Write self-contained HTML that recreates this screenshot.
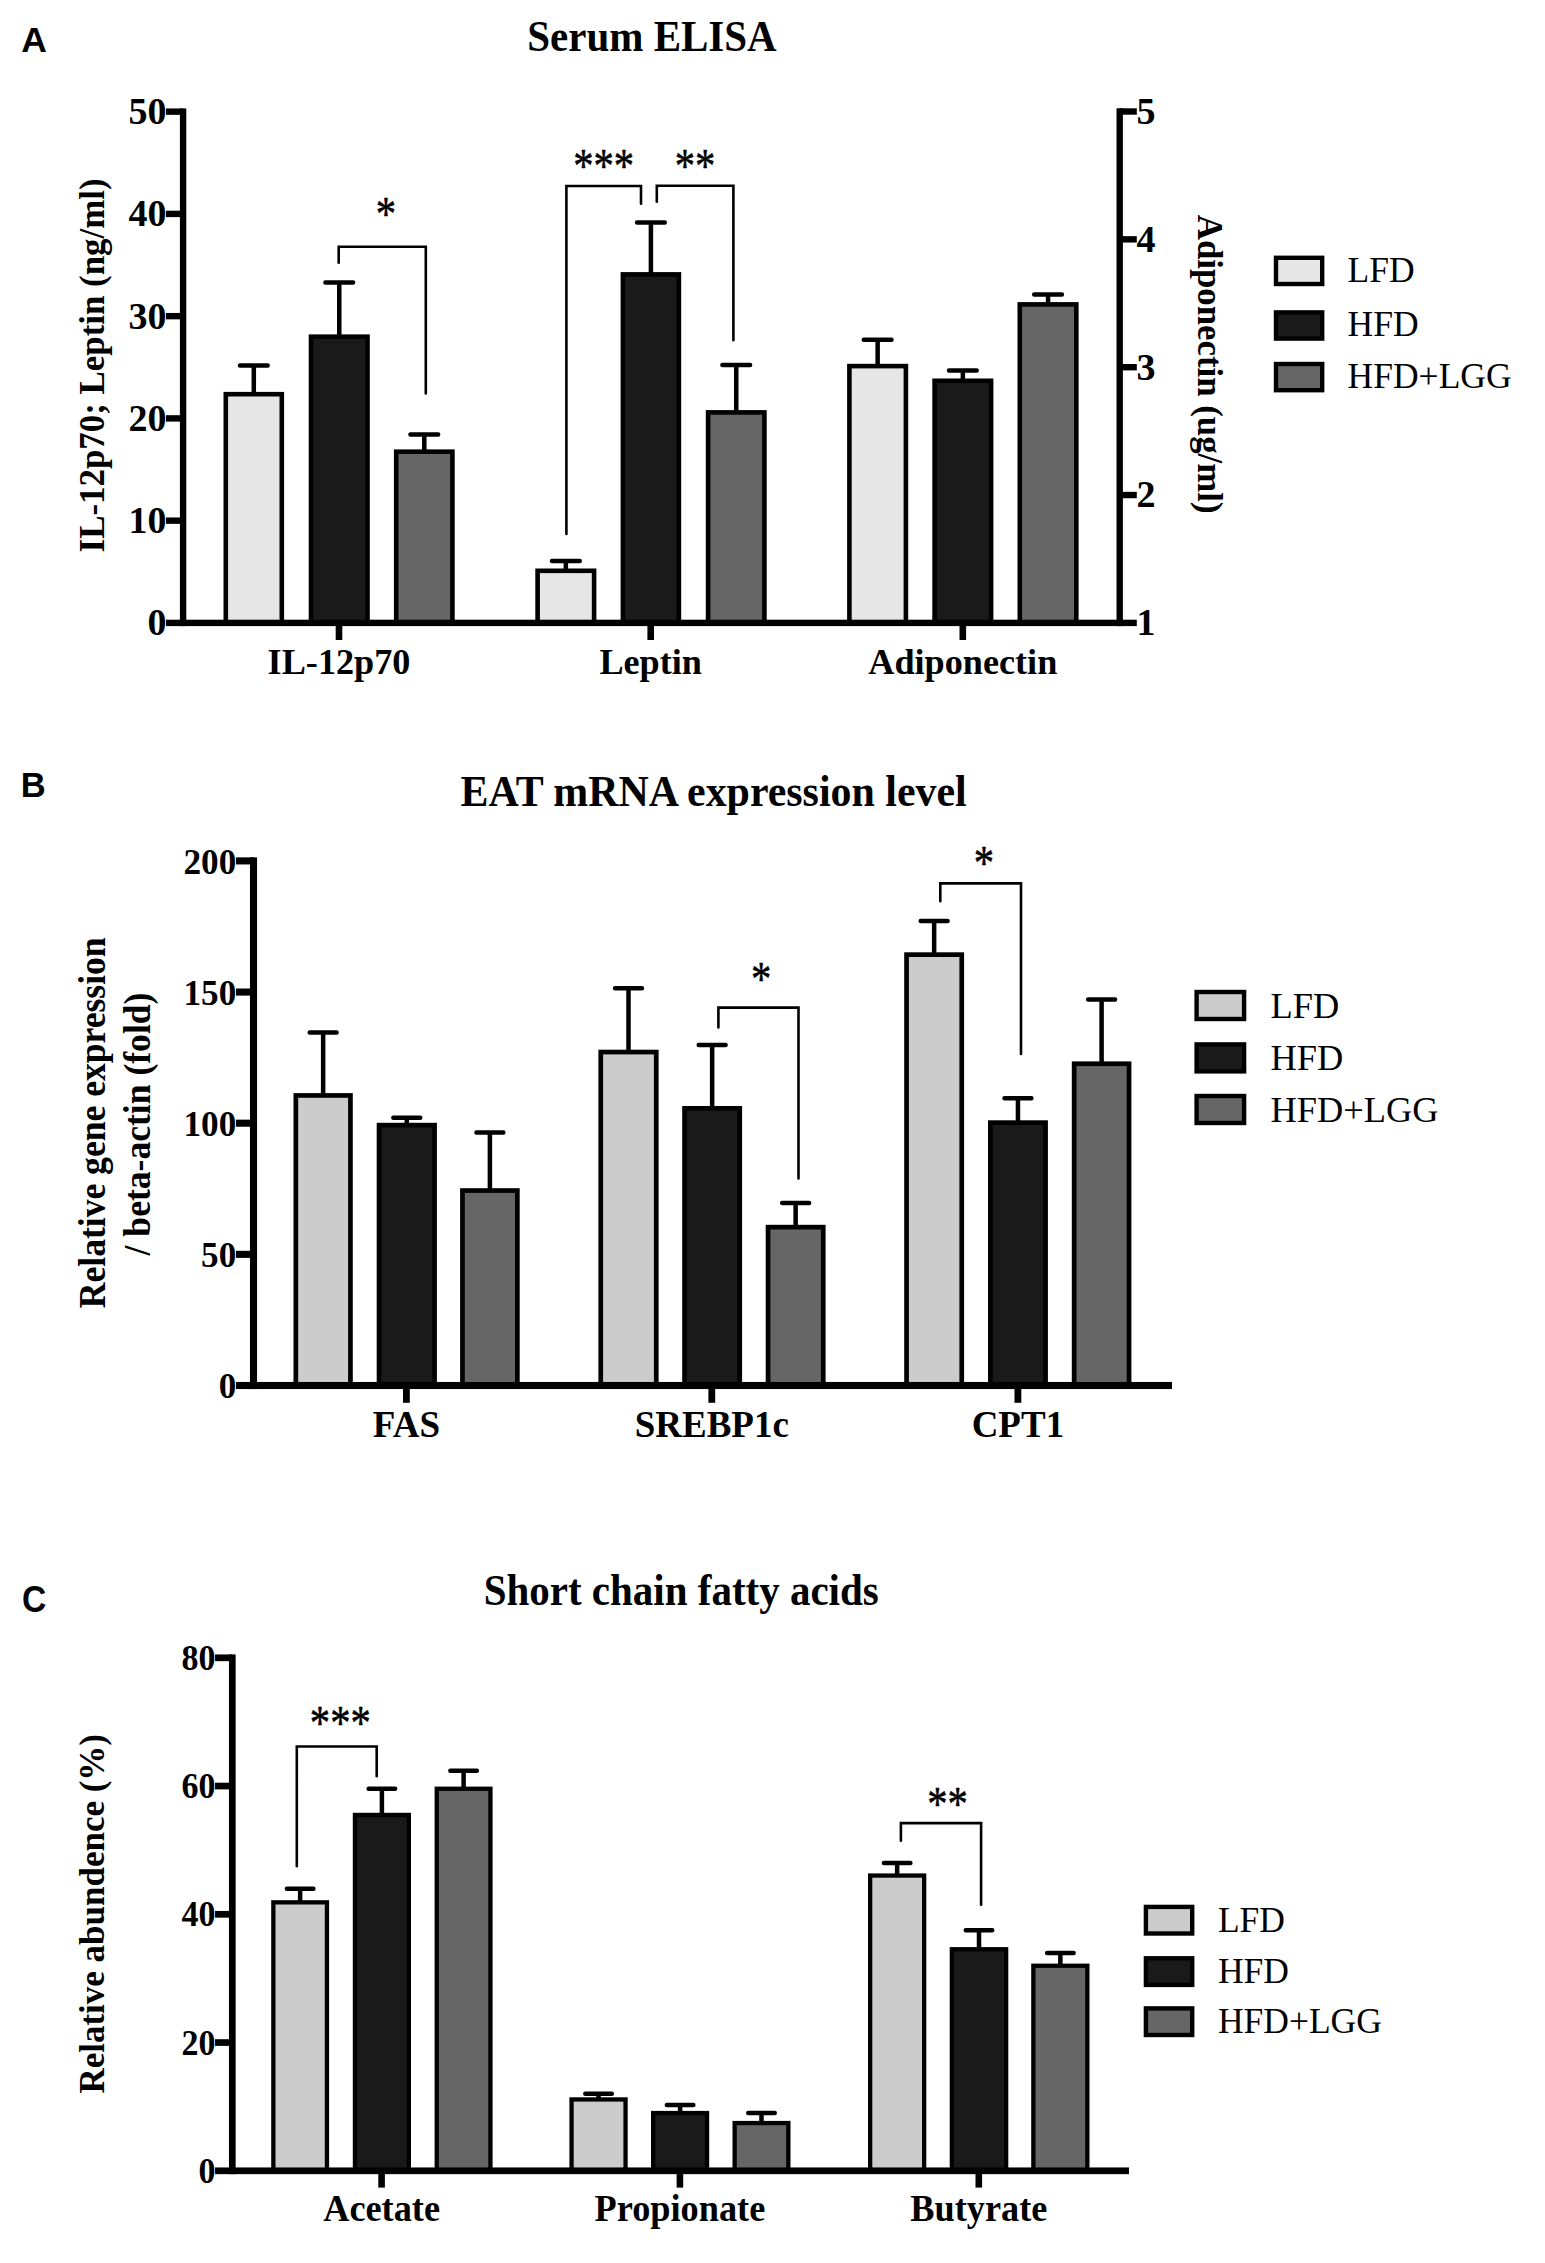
<!DOCTYPE html>
<html lang="en"><head><meta charset="utf-8"><title>Figure: Serum ELISA, EAT mRNA expression, SCFA</title>
<style>html,body{margin:0;padding:0;background:#fff}body{width:1545px;height:2263px;overflow:hidden}svg{display:block}text{fill:#000}</style>
</head><body>
<svg width="1545" height="2263" viewBox="0 0 1545 2263">
<rect width="1545" height="2263" fill="#fff"/>
<g id="panelA">
<text x="21.2" y="51.8" font-family='"Liberation Sans", Arial, sans-serif' font-size="35.5" font-weight="bold" text-anchor="start">A</text>
<text x="0" y="0" font-family='"Liberation Serif", "Times New Roman", serif' font-size="41" font-weight="bold" text-anchor="middle" transform="translate(652 50.8) scale(1 1.08)">Serum ELISA</text>
<path d="M253.8 393.9 V365.4 M239.95 365.4 H267.65" fill="none" stroke="#000" stroke-width="4.5" stroke-linecap="round"/>
<rect x="225.8" y="394.2" width="56" height="228.7" fill="#e6e6e6" stroke="#000" stroke-width="4.6"/>
<path d="M339.25 336.4 V282.6 M325.4 282.6 H353.1" fill="none" stroke="#000" stroke-width="4.5" stroke-linecap="round"/>
<rect x="311" y="336.7" width="56.5" height="286.2" fill="#1a1a1a" stroke="#000" stroke-width="4.6"/>
<path d="M424.3 451.4 V434.6 M410.45 434.6 H438.15" fill="none" stroke="#000" stroke-width="4.5" stroke-linecap="round"/>
<rect x="396.2" y="451.7" width="56.2" height="171.2" fill="#666666" stroke="#000" stroke-width="4.6"/>
<path d="M565.85 570.5 V561 M552 561 H579.7" fill="none" stroke="#000" stroke-width="4.5" stroke-linecap="round"/>
<rect x="537.6" y="570.8" width="56.5" height="52.1" fill="#e6e6e6" stroke="#000" stroke-width="4.6"/>
<path d="M650.9 274.1 V222.5 M637.05 222.5 H664.75" fill="none" stroke="#000" stroke-width="4.5" stroke-linecap="round"/>
<rect x="622.9" y="274.4" width="56" height="348.5" fill="#1a1a1a" stroke="#000" stroke-width="4.6"/>
<path d="M736.25 412.1 V365 M722.4 365 H750.1" fill="none" stroke="#000" stroke-width="4.5" stroke-linecap="round"/>
<rect x="708.1" y="412.4" width="56.3" height="210.5" fill="#666666" stroke="#000" stroke-width="4.6"/>
<path d="M877.65 365.8 V339.7 M863.8 339.7 H891.5" fill="none" stroke="#000" stroke-width="4.5" stroke-linecap="round"/>
<rect x="849.4" y="366.1" width="56.5" height="256.8" fill="#e6e6e6" stroke="#000" stroke-width="4.6"/>
<path d="M962.85 380.5 V370.5 M949 370.5 H976.7" fill="none" stroke="#000" stroke-width="4.5" stroke-linecap="round"/>
<rect x="934.6" y="380.8" width="56.5" height="242.1" fill="#1a1a1a" stroke="#000" stroke-width="4.6"/>
<path d="M1048.05 304.1 V294.6 M1034.2 294.6 H1061.9" fill="none" stroke="#000" stroke-width="4.5" stroke-linecap="round"/>
<rect x="1019.8" y="304.4" width="56.5" height="318.5" fill="#666666" stroke="#000" stroke-width="4.6"/>
<rect x="179.9" y="108.45" width="6.4" height="517.65" fill="#000"/>
<rect x="1116.5" y="108.3" width="6.4" height="517.8" fill="#000"/>
<rect x="166" y="619.7" width="970.8" height="6.4" fill="#000"/>
<text x="166.6" y="635.3" font-family='"Liberation Serif", "Times New Roman", serif' font-size="38" font-weight="bold" text-anchor="end">0</text>
<rect x="166" y="517.45" width="17.1" height="6.4" fill="#000"/>
<text x="166.6" y="533.05" font-family='"Liberation Serif", "Times New Roman", serif' font-size="38" font-weight="bold" text-anchor="end">10</text>
<rect x="166" y="415.2" width="17.1" height="6.4" fill="#000"/>
<text x="166.6" y="430.8" font-family='"Liberation Serif", "Times New Roman", serif' font-size="38" font-weight="bold" text-anchor="end">20</text>
<rect x="166" y="312.95" width="17.1" height="6.4" fill="#000"/>
<text x="166.6" y="328.55" font-family='"Liberation Serif", "Times New Roman", serif' font-size="38" font-weight="bold" text-anchor="end">30</text>
<rect x="166" y="210.7" width="17.1" height="6.4" fill="#000"/>
<text x="166.6" y="226.3" font-family='"Liberation Serif", "Times New Roman", serif' font-size="38" font-weight="bold" text-anchor="end">40</text>
<rect x="166" y="108.45" width="17.1" height="6.4" fill="#000"/>
<text x="166.6" y="124.05" font-family='"Liberation Serif", "Times New Roman", serif' font-size="38" font-weight="bold" text-anchor="end">50</text>
<text x="1136.4" y="635.3" font-family='"Liberation Serif", "Times New Roman", serif' font-size="38" font-weight="bold" text-anchor="start">1</text>
<rect x="1119.7" y="491.85" width="17.1" height="6.4" fill="#000"/>
<text x="1136.4" y="507.45" font-family='"Liberation Serif", "Times New Roman", serif' font-size="38" font-weight="bold" text-anchor="start">2</text>
<rect x="1119.7" y="364" width="17.1" height="6.4" fill="#000"/>
<text x="1136.4" y="379.6" font-family='"Liberation Serif", "Times New Roman", serif' font-size="38" font-weight="bold" text-anchor="start">3</text>
<rect x="1119.7" y="236.15" width="17.1" height="6.4" fill="#000"/>
<text x="1136.4" y="251.75" font-family='"Liberation Serif", "Times New Roman", serif' font-size="38" font-weight="bold" text-anchor="start">4</text>
<rect x="1119.7" y="108.3" width="17.1" height="6.4" fill="#000"/>
<text x="1136.4" y="123.9" font-family='"Liberation Serif", "Times New Roman", serif' font-size="38" font-weight="bold" text-anchor="start">5</text>
<rect x="335.7" y="622.9" width="6.6" height="17.1" fill="#000"/>
<text x="339" y="673.7" font-family='"Liberation Serif", "Times New Roman", serif' font-size="36.2" font-weight="bold" text-anchor="middle">IL-12p70</text>
<rect x="647.4" y="622.9" width="6.6" height="17.1" fill="#000"/>
<text x="650.7" y="673.7" font-family='"Liberation Serif", "Times New Roman", serif' font-size="36.2" font-weight="bold" text-anchor="middle">Leptin</text>
<rect x="959.5" y="622.9" width="6.6" height="17.1" fill="#000"/>
<text x="962.8" y="673.7" font-family='"Liberation Serif", "Times New Roman", serif' font-size="36.2" font-weight="bold" text-anchor="middle">Adiponectin</text>
<text x="0" y="0" font-family='"Liberation Serif", "Times New Roman", serif' font-size="34.9" font-weight="bold" text-anchor="middle" transform="translate(104.2 365.4) rotate(-90) scale(1 1.05)">IL-12p70; Leptin (ng/ml)</text>
<text x="0" y="0" font-family='"Liberation Serif", "Times New Roman", serif' font-size="34.8" font-weight="bold" text-anchor="middle" transform="translate(1197.9 364.2) rotate(90) scale(1 1.05)">Adiponectin (ug/ml)</text>
<path d="M338.7 262.7 V246.7 H425.8 V393.5" fill="none" stroke="#000" stroke-width="2.6" stroke-linecap="round" stroke-linejoin="miter"/>
<path d="M566.4 534 V186 H641 V203.8" fill="none" stroke="#000" stroke-width="2.6" stroke-linecap="round" stroke-linejoin="miter"/>
<path d="M656.8 201.7 V185.8 H733.4 V340.2" fill="none" stroke="#000" stroke-width="2.6" stroke-linecap="round" stroke-linejoin="miter"/>
<text x="0" y="0" font-family='"Liberation Serif", "Times New Roman", serif' font-size="40.6" font-weight="normal" text-anchor="middle" transform="translate(385.9 229.81) scale(1 1.19)" stroke="#000" stroke-width="0.45" stroke-linejoin="round">*</text>
<text x="0" y="0" font-family='"Liberation Serif", "Times New Roman", serif' font-size="40.6" font-weight="normal" text-anchor="middle" transform="translate(603.6 181.81) scale(1 1.19)" stroke="#000" stroke-width="0.45" stroke-linejoin="round">***</text>
<text x="0" y="0" font-family='"Liberation Serif", "Times New Roman", serif' font-size="40.6" font-weight="normal" text-anchor="middle" transform="translate(695.1 181.81) scale(1 1.19)" stroke="#000" stroke-width="0.45" stroke-linejoin="round">**</text>
<rect x="1276" y="257.8" width="46.2" height="26.2" fill="#e6e6e6" stroke="#000" stroke-width="4.4"/>
<text x="1347.6" y="281.9" font-family='"Liberation Serif", "Times New Roman", serif' font-size="35.5" font-weight="normal" text-anchor="start">LFD</text>
<rect x="1276" y="312.4" width="46.2" height="26.2" fill="#1a1a1a" stroke="#000" stroke-width="4.4"/>
<text x="1347.6" y="336.4" font-family='"Liberation Serif", "Times New Roman", serif' font-size="35.5" font-weight="normal" text-anchor="start">HFD</text>
<rect x="1276" y="364" width="46.2" height="26.2" fill="#666666" stroke="#000" stroke-width="4.4"/>
<text x="1347.6" y="388.1" font-family='"Liberation Serif", "Times New Roman", serif' font-size="35.5" font-weight="normal" text-anchor="start">HFD+LGG</text>
</g>
<g id="panelB">
<text x="0" y="0" font-family='"Liberation Sans", Arial, sans-serif' font-size="34.5" font-weight="bold" text-anchor="start" transform="translate(20.8 797.1) scale(1 1.04)">B</text>
<text x="0" y="0" font-family='"Liberation Serif", "Times New Roman", serif' font-size="41.9" font-weight="bold" text-anchor="middle" transform="translate(713.6 806) scale(1 1.06)">EAT mRNA expression level</text>
<path d="M323.15 1095.1 V1032.6 M309.7 1032.6 H336.6" fill="none" stroke="#000" stroke-width="4.5" stroke-linecap="round"/>
<rect x="295.85" y="1095.45" width="54.6" height="290.05" fill="#cccccc" stroke="#000" stroke-width="4.7"/>
<path d="M406.8 1124.8 V1117.7 M393.35 1117.7 H420.25" fill="none" stroke="#000" stroke-width="4.5" stroke-linecap="round"/>
<rect x="379.05" y="1125.15" width="55.5" height="260.35" fill="#1a1a1a" stroke="#000" stroke-width="4.7"/>
<path d="M489.9 1190.2 V1132.6 M476.45 1132.6 H503.35" fill="none" stroke="#000" stroke-width="4.5" stroke-linecap="round"/>
<rect x="462.45" y="1190.55" width="54.9" height="194.95" fill="#666666" stroke="#000" stroke-width="4.7"/>
<path d="M628.5 1051.7 V988.2 M615.05 988.2 H641.95" fill="none" stroke="#000" stroke-width="4.5" stroke-linecap="round"/>
<rect x="600.75" y="1052.05" width="55.5" height="333.45" fill="#cccccc" stroke="#000" stroke-width="4.7"/>
<path d="M712.15 1108 V1044.9 M698.7 1044.9 H725.6" fill="none" stroke="#000" stroke-width="4.5" stroke-linecap="round"/>
<rect x="684.55" y="1108.35" width="55.2" height="277.15" fill="#1a1a1a" stroke="#000" stroke-width="4.7"/>
<path d="M795.65 1226.8 V1203.1 M782.2 1203.1 H809.1" fill="none" stroke="#000" stroke-width="4.5" stroke-linecap="round"/>
<rect x="768.05" y="1227.15" width="55.2" height="158.35" fill="#666666" stroke="#000" stroke-width="4.7"/>
<path d="M934.15 954.3 V920.9 M920.7 920.9 H947.6" fill="none" stroke="#000" stroke-width="4.5" stroke-linecap="round"/>
<rect x="906.55" y="954.65" width="55.2" height="430.85" fill="#cccccc" stroke="#000" stroke-width="4.7"/>
<path d="M1017.95 1122.3 V1098.3 M1004.5 1098.3 H1031.4" fill="none" stroke="#000" stroke-width="4.5" stroke-linecap="round"/>
<rect x="990.35" y="1122.65" width="55.2" height="262.85" fill="#1a1a1a" stroke="#000" stroke-width="4.7"/>
<path d="M1101.6 1063.4 V999.5 M1088.15 999.5 H1115.05" fill="none" stroke="#000" stroke-width="4.5" stroke-linecap="round"/>
<rect x="1074.15" y="1063.75" width="54.9" height="321.75" fill="#666666" stroke="#000" stroke-width="4.7"/>
<rect x="249.95" y="857.35" width="7.1" height="531.7" fill="#000"/>
<rect x="236" y="1381.95" width="936" height="7.1" fill="#000"/>
<text x="0" y="0" font-family='"Liberation Serif", "Times New Roman", serif' font-size="35.2" font-weight="bold" text-anchor="end" transform="translate(236.3 1398.4) scale(1 1.02)">0</text>
<rect x="236" y="1250.8" width="17.5" height="7.1" fill="#000"/>
<text x="0" y="0" font-family='"Liberation Serif", "Times New Roman", serif' font-size="35.2" font-weight="bold" text-anchor="end" transform="translate(236.3 1267.25) scale(1 1.02)">50</text>
<rect x="236" y="1119.65" width="17.5" height="7.1" fill="#000"/>
<text x="0" y="0" font-family='"Liberation Serif", "Times New Roman", serif' font-size="35.2" font-weight="bold" text-anchor="end" transform="translate(236.3 1136.1) scale(1 1.02)">100</text>
<rect x="236" y="988.5" width="17.5" height="7.1" fill="#000"/>
<text x="0" y="0" font-family='"Liberation Serif", "Times New Roman", serif' font-size="35.2" font-weight="bold" text-anchor="end" transform="translate(236.3 1004.95) scale(1 1.02)">150</text>
<rect x="236" y="857.35" width="17.5" height="7.1" fill="#000"/>
<text x="0" y="0" font-family='"Liberation Serif", "Times New Roman", serif' font-size="35.2" font-weight="bold" text-anchor="end" transform="translate(236.3 873.8) scale(1 1.02)">200</text>
<rect x="403" y="1385.5" width="6.8" height="17.3" fill="#000"/>
<text x="0" y="0" font-family='"Liberation Serif", "Times New Roman", serif' font-size="37" font-weight="bold" text-anchor="middle" transform="translate(406.4 1437.3) scale(1 1.03)">FAS</text>
<rect x="708.4" y="1385.5" width="6.8" height="17.3" fill="#000"/>
<text x="0" y="0" font-family='"Liberation Serif", "Times New Roman", serif' font-size="37" font-weight="bold" text-anchor="middle" transform="translate(711.8 1437.3) scale(1 1.03)">SREBP1c</text>
<rect x="1014.5" y="1385.5" width="6.8" height="17.3" fill="#000"/>
<text x="0" y="0" font-family='"Liberation Serif", "Times New Roman", serif' font-size="37" font-weight="bold" text-anchor="middle" transform="translate(1017.9 1437.3) scale(1 1.03)">CPT1</text>
<text x="0" y="0" font-family='"Liberation Serif", "Times New Roman", serif' font-size="35.6" font-weight="bold" text-anchor="middle" transform="translate(104.8 1122.8) rotate(-90) scale(1 1.04)">Relative gene expression</text>
<text x="0" y="0" font-family='"Liberation Serif", "Times New Roman", serif' font-size="35.6" font-weight="bold" text-anchor="middle" transform="translate(149.6 1124) rotate(-90) scale(1 1.04)">/ beta-actin (fold)</text>
<path d="M718.4 1027.4 V1007.6 H798.5 V1178.5" fill="none" stroke="#000" stroke-width="2.6" stroke-linecap="round" stroke-linejoin="miter"/>
<path d="M940.3 901.2 V883.4 H1021 V1053.9" fill="none" stroke="#000" stroke-width="2.6" stroke-linecap="round" stroke-linejoin="miter"/>
<text x="0" y="0" font-family='"Liberation Serif", "Times New Roman", serif' font-size="40.6" font-weight="normal" text-anchor="middle" transform="translate(761.2 994.71) scale(1 1.19)" stroke="#000" stroke-width="0.45" stroke-linejoin="round">*</text>
<text x="0" y="0" font-family='"Liberation Serif", "Times New Roman", serif' font-size="40.6" font-weight="normal" text-anchor="middle" transform="translate(983.8 879.21) scale(1 1.19)" stroke="#000" stroke-width="0.45" stroke-linejoin="round">*</text>
<rect x="1196.6" y="992" width="47.5" height="27" fill="#cccccc" stroke="#000" stroke-width="4.4"/>
<text x="1270.5" y="1017.7" font-family='"Liberation Serif", "Times New Roman", serif' font-size="36.4" font-weight="normal" text-anchor="start">LFD</text>
<rect x="1196.6" y="1044.4" width="47.5" height="27" fill="#1a1a1a" stroke="#000" stroke-width="4.4"/>
<text x="1270.5" y="1069.8" font-family='"Liberation Serif", "Times New Roman", serif' font-size="36.4" font-weight="normal" text-anchor="start">HFD</text>
<rect x="1196.6" y="1096" width="47.5" height="27" fill="#666666" stroke="#000" stroke-width="4.4"/>
<text x="1270.5" y="1121.9" font-family='"Liberation Serif", "Times New Roman", serif' font-size="36.4" font-weight="normal" text-anchor="start">HFD+LGG</text>
</g>
<g id="panelC">
<text x="0" y="0" font-family='"Liberation Sans", Arial, sans-serif' font-size="33.6" font-weight="bold" text-anchor="start" transform="translate(21.9 1611.8) scale(1 1.09)">C</text>
<text x="0" y="0" font-family='"Liberation Serif", "Times New Roman", serif' font-size="41" font-weight="bold" text-anchor="middle" transform="translate(681.2 1605) scale(1 1.06)">Short chain fatty acids</text>
<path d="M300.15 1902.2 V1888.8 M286.9 1888.8 H313.4" fill="none" stroke="#000" stroke-width="4.5" stroke-linecap="round"/>
<rect x="273.35" y="1902.35" width="53.6" height="268.45" fill="#cccccc" stroke="#000" stroke-width="4.3"/>
<path d="M381.9 1814.8 V1788.8 M368.65 1788.8 H395.15" fill="none" stroke="#000" stroke-width="4.5" stroke-linecap="round"/>
<rect x="354.95" y="1814.95" width="53.9" height="355.85" fill="#1a1a1a" stroke="#000" stroke-width="4.3"/>
<path d="M463.6 1788.6 V1770.7 M450.35 1770.7 H476.85" fill="none" stroke="#000" stroke-width="4.5" stroke-linecap="round"/>
<rect x="436.75" y="1788.75" width="53.7" height="382.05" fill="#666666" stroke="#000" stroke-width="4.3"/>
<path d="M598.55 2099.3 V2093.7 M585.3 2093.7 H611.8" fill="none" stroke="#000" stroke-width="4.5" stroke-linecap="round"/>
<rect x="571.55" y="2099.45" width="54" height="71.35" fill="#cccccc" stroke="#000" stroke-width="4.3"/>
<path d="M680.1 2112.9 V2105 M666.85 2105 H693.35" fill="none" stroke="#000" stroke-width="4.5" stroke-linecap="round"/>
<rect x="653.15" y="2113.05" width="53.9" height="57.75" fill="#1a1a1a" stroke="#000" stroke-width="4.3"/>
<path d="M761.5 2122.9 V2113.1 M748.25 2113.1 H774.75" fill="none" stroke="#000" stroke-width="4.5" stroke-linecap="round"/>
<rect x="734.65" y="2123.05" width="53.7" height="47.75" fill="#666666" stroke="#000" stroke-width="4.3"/>
<path d="M897.15 1875.4 V1863 M883.9 1863 H910.4" fill="none" stroke="#000" stroke-width="4.5" stroke-linecap="round"/>
<rect x="870.15" y="1875.55" width="54" height="295.25" fill="#cccccc" stroke="#000" stroke-width="4.3"/>
<path d="M979 1949.1 V1930.3 M965.75 1930.3 H992.25" fill="none" stroke="#000" stroke-width="4.5" stroke-linecap="round"/>
<rect x="951.85" y="1949.25" width="54.3" height="221.55" fill="#1a1a1a" stroke="#000" stroke-width="4.3"/>
<path d="M1060.35 1965.6 V1952.9 M1047.1 1952.9 H1073.6" fill="none" stroke="#000" stroke-width="4.5" stroke-linecap="round"/>
<rect x="1033.35" y="1965.75" width="54" height="205.05" fill="#666666" stroke="#000" stroke-width="4.3"/>
<rect x="228.95" y="1654.45" width="6.7" height="519.7" fill="#000"/>
<rect x="215" y="2167.45" width="914" height="6.7" fill="#000"/>
<text x="0" y="0" font-family='"Liberation Serif", "Times New Roman", serif' font-size="34" font-weight="bold" text-anchor="end" transform="translate(215.4 2182.9) scale(1 1.03)">0</text>
<rect x="215" y="2039.2" width="17.3" height="6.7" fill="#000"/>
<text x="0" y="0" font-family='"Liberation Serif", "Times New Roman", serif' font-size="34" font-weight="bold" text-anchor="end" transform="translate(215.4 2054.65) scale(1 1.03)">20</text>
<rect x="215" y="1910.95" width="17.3" height="6.7" fill="#000"/>
<text x="0" y="0" font-family='"Liberation Serif", "Times New Roman", serif' font-size="34" font-weight="bold" text-anchor="end" transform="translate(215.4 1926.4) scale(1 1.03)">40</text>
<rect x="215" y="1782.7" width="17.3" height="6.7" fill="#000"/>
<text x="0" y="0" font-family='"Liberation Serif", "Times New Roman", serif' font-size="34" font-weight="bold" text-anchor="end" transform="translate(215.4 1798.15) scale(1 1.03)">60</text>
<rect x="215" y="1654.45" width="17.3" height="6.7" fill="#000"/>
<text x="0" y="0" font-family='"Liberation Serif", "Times New Roman", serif' font-size="34" font-weight="bold" text-anchor="end" transform="translate(215.4 1669.9) scale(1 1.03)">80</text>
<rect x="378.3" y="2170.8" width="6.6" height="16.8" fill="#000"/>
<text x="0" y="0" font-family='"Liberation Serif", "Times New Roman", serif' font-size="36.3" font-weight="bold" text-anchor="middle" transform="translate(381.6 2221.3) scale(1 1.02)">Acetate</text>
<rect x="676.6" y="2170.8" width="6.6" height="16.8" fill="#000"/>
<text x="0" y="0" font-family='"Liberation Serif", "Times New Roman", serif' font-size="36.3" font-weight="bold" text-anchor="middle" transform="translate(679.9 2221.3) scale(1 1.02)">Propionate</text>
<rect x="975.5" y="2170.8" width="6.6" height="16.8" fill="#000"/>
<text x="0" y="0" font-family='"Liberation Serif", "Times New Roman", serif' font-size="36.3" font-weight="bold" text-anchor="middle" transform="translate(978.8 2221.3) scale(1 1.02)">Butyrate</text>
<text x="0" y="0" font-family='"Liberation Serif", "Times New Roman", serif' font-size="35" font-weight="bold" text-anchor="middle" transform="translate(103.5 1913.8) rotate(-90) scale(1 1.05)">Relative abundence (%)</text>
<path d="M296.8 1866.2 V1746.5 H376.7 V1776.2" fill="none" stroke="#000" stroke-width="2.6" stroke-linecap="round" stroke-linejoin="miter"/>
<path d="M900.9 1840.7 V1823.1 H981.1 V1904.7" fill="none" stroke="#000" stroke-width="2.6" stroke-linecap="round" stroke-linejoin="miter"/>
<text x="0" y="0" font-family='"Liberation Serif", "Times New Roman", serif' font-size="40.6" font-weight="normal" text-anchor="middle" transform="translate(340.3 1739.01) scale(1 1.19)" stroke="#000" stroke-width="0.45" stroke-linejoin="round">***</text>
<text x="0" y="0" font-family='"Liberation Serif", "Times New Roman", serif' font-size="40.6" font-weight="normal" text-anchor="middle" transform="translate(947.6 1819.61) scale(1 1.19)" stroke="#000" stroke-width="0.45" stroke-linejoin="round">**</text>
<rect x="1145.9" y="1906.9" width="46.3" height="26.6" fill="#cccccc" stroke="#000" stroke-width="4.4"/>
<text x="1217.9" y="1932" font-family='"Liberation Serif", "Times New Roman", serif' font-size="35.5" font-weight="normal" text-anchor="start">LFD</text>
<rect x="1145.9" y="1958.3" width="46.3" height="26.6" fill="#1a1a1a" stroke="#000" stroke-width="4.4"/>
<text x="1217.9" y="1982.9" font-family='"Liberation Serif", "Times New Roman", serif' font-size="35.5" font-weight="normal" text-anchor="start">HFD</text>
<rect x="1145.9" y="2008.4" width="46.3" height="26.6" fill="#666666" stroke="#000" stroke-width="4.4"/>
<text x="1217.9" y="2033.4" font-family='"Liberation Serif", "Times New Roman", serif' font-size="35.5" font-weight="normal" text-anchor="start">HFD+LGG</text>
</g>
</svg></body></html>
